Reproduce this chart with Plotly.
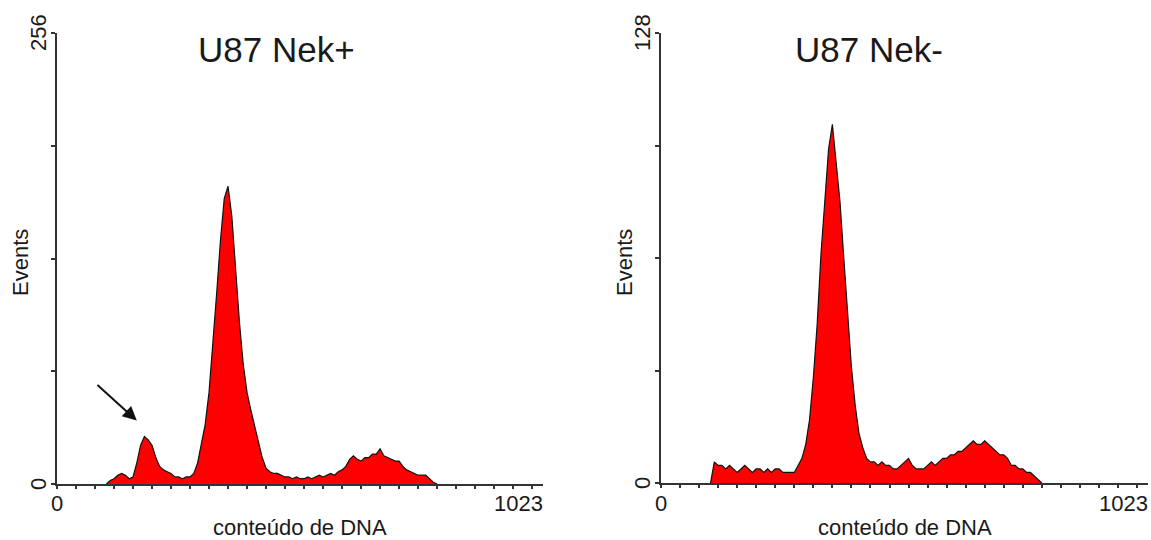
import plotly.graph_objects as go

# DNA content histograms (channel position, counts = events)
channels = list(range(104, 808, 8))

nek_pos_counts = [
    0, 2, 3, 5, 6, 5, 3, 4, 12, 22, 27, 25, 22, 15, 10, 8,
    7, 6, 4, 4, 3, 4, 4, 6, 12, 22, 34, 52, 78, 108, 138, 162,
    169, 152, 122, 92, 68, 52, 42, 33, 24, 15, 9, 7, 6, 6, 5, 4,
    4, 3, 4, 3, 3, 4, 3, 4, 5, 4, 5, 6, 5, 7, 8, 10,
    14, 16, 14, 13, 15, 15, 17, 17, 20, 16, 15, 14, 13, 13, 10, 8,
    7, 6, 5, 5, 5, 3, 1, 0,
]

nek_neg_counts = [
    0, 6, 5, 5, 4, 5, 4, 3, 4, 5, 4, 3, 4, 4, 3, 4,
    3, 4, 4, 3, 3, 3, 3, 5, 7, 11, 18, 30, 45, 65, 80, 95,
    102, 90, 80, 64, 48, 33, 22, 14, 10, 7, 6, 6, 5, 6, 5, 5,
    4, 4, 5, 6, 7, 5, 4, 4, 4, 5, 6, 5, 6, 7, 7, 8,
    8, 9, 9, 10, 11, 12, 11, 11, 12, 11, 10, 9, 8, 8, 7, 5,
    5, 4, 4, 3, 3, 2, 1, 0,
]

panel_titles = ["U87 Nek+", "U87 Nek-"]
y_max = [256, 128]
x_max = 1023
x_title = "conteúdo de DNA"
y_title = "Events"

FONT = "Liberation Sans, Arial, sans-serif"
TEXT = "#1a1a1a"
AXIS = "#333333"

W, H = 1151, 540
# plot areas in pixels: (left, right, top, bottom)
areas = [(57, 543, 33, 484), (661, 1148, 33, 483)]


def px_x(p):
    return p / W


def px_y(p):
    return 1 - p / H


fig = go.Figure()

for i, counts in enumerate([nek_pos_counts, nek_neg_counts]):
    sfx = "" if i == 0 else str(i + 1)
    fig.add_trace(go.Scatter(
        x=channels, y=counts,
        xaxis="x" + sfx, yaxis="y" + sfx,
        mode="lines", line=dict(shape="linear", color="#111111", width=1.2),
        fill="tozeroy", fillcolor="#FF0000",
        showlegend=False, hoverinfo="skip",
    ))

layout = dict(
    width=W, height=H,
    margin=dict(l=0, r=0, t=0, b=0),
    paper_bgcolor="white", plot_bgcolor="white",
    showlegend=False,
)

annotations = []
for i, (l, r, t, b) in enumerate(areas):
    sfx = "" if i == 0 else str(i + 1)
    layout["xaxis" + sfx] = dict(
        domain=[px_x(l), px_x(r)], range=[0, x_max],
        anchor="y" + sfx,
        showline=True, linecolor=AXIS, linewidth=2,
        ticks="outside", tickmode="linear", tick0=0, dtick=40,
        ticklen=3, tickwidth=2, tickcolor=AXIS,
        showticklabels=False, showgrid=False, zeroline=False,
    )
    layout["yaxis" + sfx] = dict(
        domain=[px_y(b), px_y(t)], range=[0, y_max[i]],
        anchor="x" + sfx,
        showline=True, linecolor=AXIS, linewidth=2,
        ticks="outside", tickmode="linear", tick0=0, dtick=y_max[i] / 4,
        ticklen=4, tickwidth=2, tickcolor=AXIS,
        showticklabels=False, showgrid=False, zeroline=False,
    )
    cx = (l + r) / 2
    # panel title
    annotations.append(dict(
        text=panel_titles[i], x=px_x(cx - 24 if i == 0 else cx - 36), y=px_y(50),
        xref="paper", yref="paper", xanchor="center", yanchor="middle",
        showarrow=False, font=dict(family=FONT, size=35, color=TEXT),
    ))
    # x axis labels
    annotations.append(dict(
        text="0", x=0, y=px_y(503), xref="x" + sfx, yref="paper",
        xanchor="center", yanchor="middle", showarrow=False,
        font=dict(family=FONT, size=22, color=TEXT),
    ))
    annotations.append(dict(
        text=str(x_max), x=x_max, y=px_y(503), xref="x" + sfx, yref="paper",
        xanchor="right", yanchor="middle", showarrow=False, xshift=2,
        font=dict(family=FONT, size=22, color=TEXT),
    ))
    annotations.append(dict(
        text=x_title, x=px_x(cx), y=px_y(527), xref="paper", yref="paper",
        xanchor="center", yanchor="middle", showarrow=False,
        font=dict(family=FONT, size=22, color=TEXT),
    ))
    # y axis labels (rotated)
    annotations.append(dict(
        text="0", x=px_x(l - 19), y=0, xref="paper", yref="y" + sfx,
        xanchor="center", yanchor="middle", textangle=-90, showarrow=False,
        font=dict(family=FONT, size=22, color=TEXT),
    ))
    annotations.append(dict(
        text=str(y_max[i]), x=px_x(l - 19), y=y_max[i], xref="paper", yref="y" + sfx,
        xanchor="center", yanchor="middle", textangle=-90, showarrow=False,
        font=dict(family=FONT, size=22, color=TEXT),
    ))
    annotations.append(dict(
        text=y_title, x=px_x(l - 37), y=px_y(263), xref="paper", yref="paper",
        xanchor="center", yanchor="middle", textangle=-90, showarrow=False,
        font=dict(family=FONT, size=22, color=TEXT),
    ))

# arrow pointing at the sub-G1 peak
annotations.append(dict(
    x=168, y=36, ax=82, ay=57, xref="x", yref="y", axref="x", ayref="y",
    text="", showarrow=True, arrowhead=2, arrowsize=1.4, arrowwidth=2,
    arrowcolor="#111111",
))

layout["annotations"] = annotations
fig.update_layout(**layout)
fig.write_html("out.html")
